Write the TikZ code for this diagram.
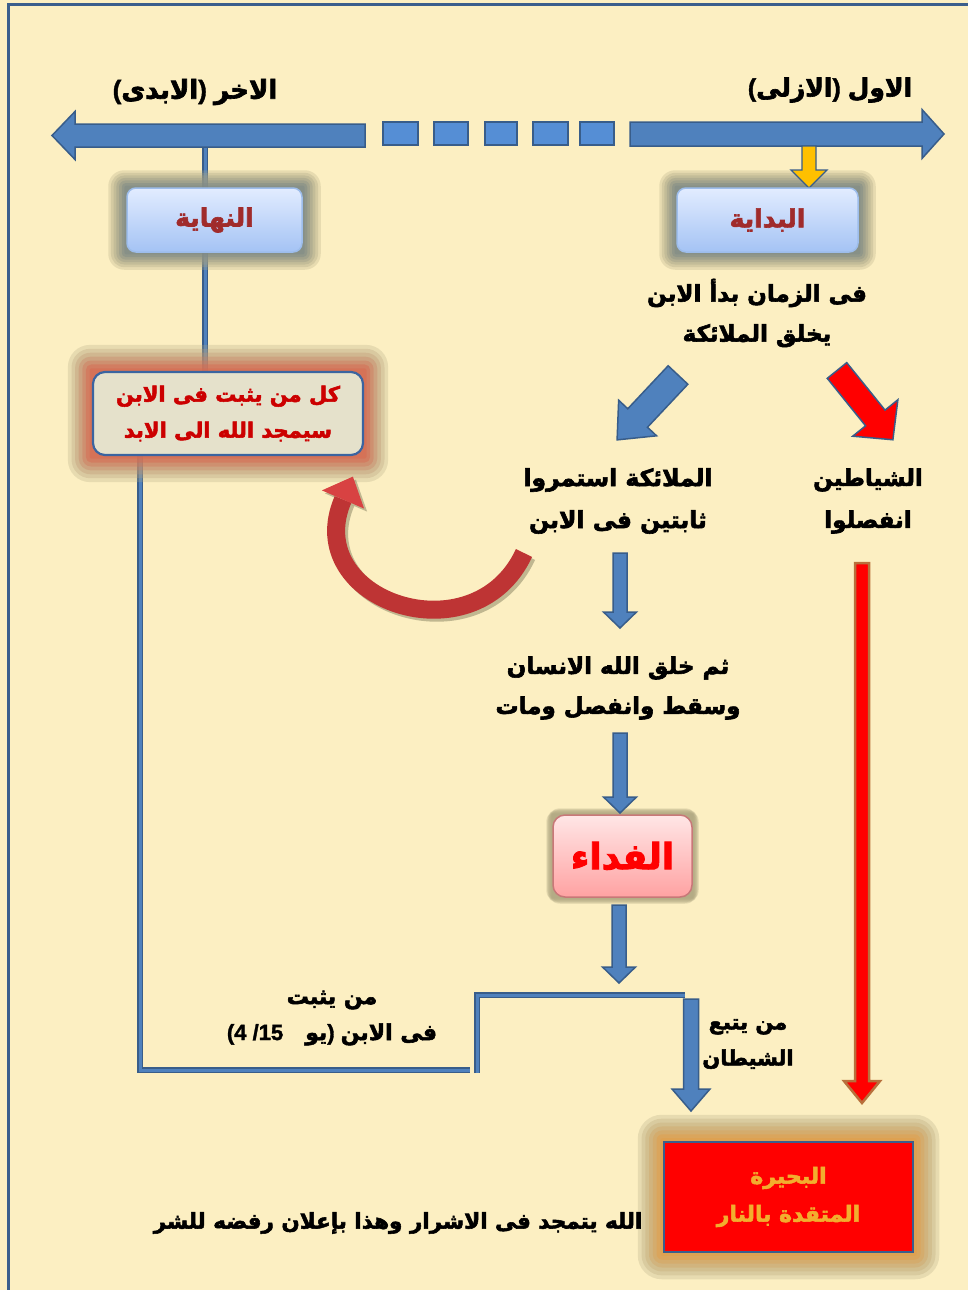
\documentclass[tikz,border=0pt]{standalone}
\usepackage{fontspec}
\usetikzlibrary{calc}
\TeXXeTstate=1
\setmainfont{Liberation Sans}[BoldFeatures={FakeBold=1.5}]
\newfontfamily\arf[Script=Arabic,BoldFeatures={FakeBold=2.5}]{DejaVu Sans}
\definecolor{bgc}{HTML}{FCEFC2}
\definecolor{framec}{HTML}{3B5E8C}
\definecolor{bfill}{HTML}{4F81BD}
\definecolor{bdark}{HTML}{385D8A}
\definecolor{sqfill}{HTML}{558ED5}
\definecolor{orng}{HTML}{FFC000}
\definecolor{boxtop}{HTML}{E2ECFF}
\definecolor{boxbot}{HTML}{A4C3F4}
\definecolor{boxline}{HTML}{9DBDEB}
\definecolor{nred}{HTML}{A02B2B}
\definecolor{kfill}{HTML}{E5E1CB}
\definecolor{kline}{HTML}{3B64A0}
\definecolor{kred}{HTML}{CC0000}
\definecolor{gblue}{HTML}{7F8A86}
\definecolor{golive}{HTML}{B3AA84}
\definecolor{gred}{HTML}{D8684F}
\definecolor{gorange}{HTML}{E39E48}
\definecolor{ftop}{HTML}{FFE6E6}
\definecolor{fbot}{HTML}{FFA2A2}
\definecolor{fline}{HTML}{C87878}
\definecolor{redline}{HTML}{B8703C}
\definecolor{bhtext}{HTML}{F2AE2E}
\definecolor{carrow}{HTML}{BE3434}
\definecolor{carrowh}{HTML}{D84242}
\definecolor{cshadow}{HTML}{8F8A68}
\newcommand\R[1]{{\arf\bfseries\beginR #1\endR}}
\newcommand\fs[2]{\fontsize{#1}{#2}\selectfont\bfseries}
\pgfdeclarelayer{bgl}
\pgfdeclarelayer{lines}
\pgfdeclarelayer{glow}
\pgfsetlayers{bgl,lines,glow,main}
\tikzset{
 pics/barrow/.style args={#1/#2/#3/#4}{code={\path[pic actions] (0,-#2/2) -- ({#1-#4},-#2/2) -- ({#1-#4},-#3/2) -- (#1,0) -- ({#1-#4},#3/2) -- ({#1-#4},#2/2) -- (0,#2/2) -- cycle;}},
}
% node, x-extent, y-extent, outer colour, inner colour, corner radius
\newcommand\glowbox[6]{%
 \foreach \f/\m/\o in {1/0/.28,.85/15/.3,.7/35/.32,.55/60/.36,.4/80/.4,.25/100/.45,.1/100/.5}{%
  \fill[#5!\m!#4,opacity=\o,rounded corners={max(2,\f*#6)}] ([shift={(-\f*#2,-\f*#3)}]#1.north west) rectangle ([shift={(\f*#2,\f*#3)}]#1.south east);
 }%
}
\begin{document}
\begin{tikzpicture}[x=1pt,y=-1pt,
 txt/.style={align=center,inner sep=0pt},
 barr/.style={fill=bfill,draw=bdark,line width=1.5pt},
 sq/.style={fill=sqfill,draw=bdark,line width=1.5pt},
 bl/.style={draw=bdark,double=bfill,double distance=3pt,line width=1.6pt},
 nbox/.style={rounded corners=9,top color=boxtop,bottom color=boxbot,draw=boxline,line width=1.5pt,inner sep=0pt,text=nred,font=\fs{25}{28}},
 kbox/.style={rounded corners=12,fill=kfill,draw=kline,line width=2.2pt,inner sep=0pt,text=kred,align=center,font=\fs{21}{36}},
 fbox/.style={rounded corners=12,top color=ftop,bottom color=fbot,draw=fline,line width=1.5pt,inner sep=0pt,text=red,font=\fs{36}{40}},
 bhbox/.style={fill=red,draw=framec,line width=2.5pt,inner sep=0pt,text=bhtext,align=center,font=\fs{22}{38}},
]
\useasboundingbox (0,0) rectangle (968,1290);
\begin{pgfonlayer}{bgl}
\fill[bgc] (0,0) rectangle (968,1290);
\draw[framec,line width=3.5pt] (8.5,1290) -- (8.5,4.5) -- (968,4.5);
\end{pgfonlayer}

% titles
\node[txt,font=\fs{26}{30}] (akhir) at (195,92) {(\R{الابدى}) \R{الاخر}};
\node[txt,font=\fs{25}{30}] (awwal) at (830,90) {(\R{الازلى}) \R{الاول}};

% timeline
\coordinate (tl) at (365,135.5);
\coordinate (tr) at (630,134);
\pic[barr,rotate=180] at (tl) {barrow=313/23/48/23};
\pic[barr] at (tr) {barrow=314/24/49/22};
\foreach \a/\b in {383/418,434/468,485/517,533/568,580/614}
  \draw[sq] (\a,122) rectangle (\b,145);
\coordinate (oa) at (809,146);
\pic[fill=orng,draw=bdark,line width=1.3pt,rotate=-90] at (oa) {barrow=42/14/36/18};

% boxes
\node[nbox,minimum width=175,minimum height=64] (nihaya) at (214.5,220) {\R{النهاية}};
\node[nbox,minimum width=181,minimum height=64] (bidaya) at (767.5,220) {\R{البداية}};
\node[kbox,minimum width=270,minimum height=83] (kull) at (228,413.5) {\R{كل من يثبت فى الابن}\\\R{سيمجد الله الى الابد}};
\node[fbox,minimum width=139,minimum height=82] (fidaa) at (622.5,856) {\R{الفداء}};
\node[bhbox,minimum width=249,minimum height=110] (bahira) at (788.5,1197) {\R{البحيرة}\\\R{المتقدة بالنار}};

% texts
\node[txt,font=\fs{23}{40}] (zaman) at (757,313) {\R{فى الزمان بدأ الابن}\\\R{يخلق الملائكة}};
\node[txt,font=\fs{23.5}{42}] (malaika) at (618,501) {\R{الملائكة استمروا}\\\R{ثابتين فى الابن}};
\node[txt,font=\fs{23}{42}] (shayatin) at (868,501) {\R{الشياطين}\\\R{انفصلوا}};
\node[txt,font=\fs{23}{40}] (insan) at (618,688) {\R{ثم خلق الله الانسان}\\\R{وسقط وانفصل ومات}};
\node[txt,font=\fs{22}{36}] (yathbut) at (332,1018) {\R{من يثبت}\\(4 /15\quad\R{يو}) \R{فى الابن}};
\node[txt,font=\fs{21}{36}] (yatba) at (748,1044) {\R{من يتبع}\\\R{الشيطان}};
\node[txt,font=\fs{21.5}{24}] (sharr) at (398,1223) {\R{الله يتمجد فى الاشرار وهذا بإعلان رفضه للشر}};

% glows
\begin{pgfonlayer}{glow}
\glowbox{nihaya}{18}{17}{golive}{gblue}{16}
\glowbox{bidaya}{17}{17}{golive}{gblue}{16}
\glowbox{kull}{24}{26}{golive}{gred}{22}
\glowbox{fidaa}{6}{6}{golive}{golive}{14}
\glowbox{bahira}{25}{26}{golive}{gorange}{24}
\end{pgfonlayer}

% lines
\begin{pgfonlayer}{lines}
\coordinate (lt) at (205,147);
\draw[bl] (lt) -- ([xshift=-23]kull.north);
\coordinate (jl) at (470,1070);
\draw[bl] ([xshift=-88]kull.south) |- (jl);
\coordinate (e0) at (477,1073);
\coordinate (e1) at (691,995);
\draw[bl] (e0) |- ([xshift=-6]e1);
\end{pgfonlayer}

% arrows
\coordinate (db) at (678,375);
\coordinate (dr) at (837,370.5);
\pic[barr,rotate=-133.2] at (db) {barrow=89/27/52/30};
\pic[fill=red,draw=bdark,line width=1.5pt,rotate=-51.1] at (dr) {barrow=89/25/58/28};
\coordinate (a1) at (620,553);
\coordinate (a2) at (620,733);
\coordinate (a3) at (619,905);
\pic[barr,rotate=-90] at (a1) {barrow=75/14/33/16};
\pic[barr,rotate=-90] at (a2) {barrow=80/14/33/16};
\pic[barr,rotate=-90] at (a3) {barrow=78/14/33/16};
\pic[barr,rotate=-90] at ([yshift=-4]e1) {barrow=112/15/38/22};
\coordinate (rv) at (862,563);
\pic[fill=red,draw=redline,line width=2.5pt,rotate=-90] at (rv) {barrow=540/14/36/22};

% curved arrow
\coordinate (cs) at (524,553);
\coordinate (ce) at (343,499.5);
\draw[line width=18pt,draw=cshadow,opacity=.55] ([shift={(3,3)}]cs) .. controls (477.4,663) and (302.4,603.5) .. ([shift={(3,3)}]ce);
\fill[cshadow,opacity=.55] (324.9,493.4) -- (355.9,479.6) -- (367.1,511.6) -- cycle;
\draw[line width=18pt,draw=carrow] (cs) .. controls (474.4,660) and (299.4,600.5) .. (ce);
\fill[carrowh] (321.9,490.4) -- (352.9,476.6) -- (364.1,508.6) -- cycle;
\end{tikzpicture}
\end{document}
